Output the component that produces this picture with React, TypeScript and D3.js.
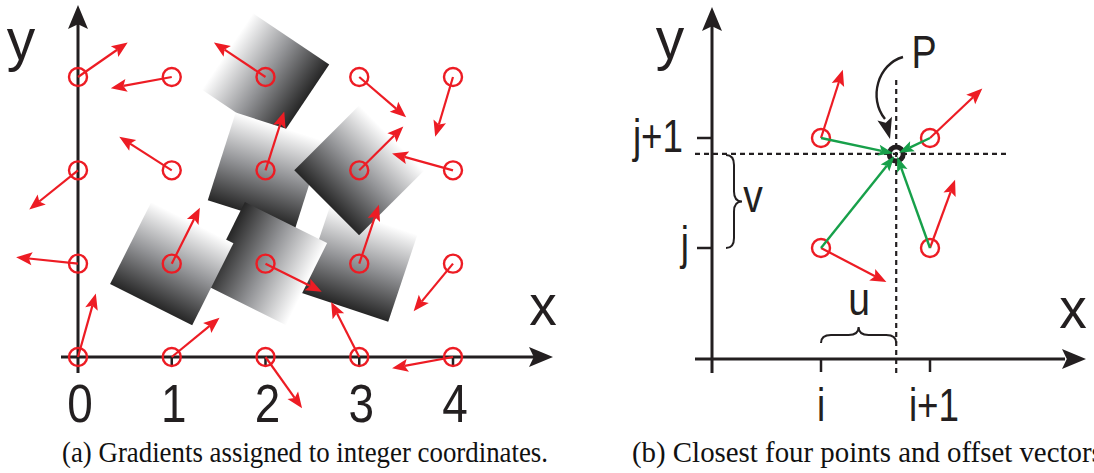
import React from "react";
import * as d3 from "d3";

const W = 1094;
const H = 473;

// panel (a): lattice and the gradient vector at each integer point [i, j, gx, gy]
const latticeX = [0, 1, 2, 3, 4];
const latticeY = [0, 1, 2, 3];
const gradients: [number, number, number, number][] = [
  [0, 0, 0.19, 0.68], [1, 0, 0.51, 0.42], [2, 0, 0.39, -0.55], [3, 0, -0.3, 0.59], [4, 0, -0.65, -0.12],
  [0, 1, -0.66, 0.07], [1, 1, 0.3, 0.6], [2, 1, 0.6, -0.3], [3, 1, 0.21, 0.63], [4, 1, -0.42, -0.51],
  [0, 2, -0.52, -0.42], [1, 2, -0.56, 0.36], [2, 2, 0.2, 0.63], [3, 2, 0.47, 0.47], [4, 2, -0.65, 0.18],
  [0, 3, 0.53, 0.37], [1, 3, -0.65, -0.12], [2, 3, -0.55, 0.37], [3, 3, 0.5, -0.43], [4, 3, -0.19, -0.64],
];
// points that get a shaded square, in drawing order
const shaded: [number, number][] = [[2, 3], [2, 2], [3, 1], [3, 2], [2, 1], [1, 1]];
const tickLabelsA = ["0", "1", "2", "3", "4"];

// panel (b): the four cell corners, their gradients and the point P
const corners: [number, number][] = [[0, 1], [1, 1], [0, 0], [1, 0]];
const cornerGrads: [number, number][] = [[0.2, 0.62], [0.48, 0.45], [0.6, -0.31], [0.23, 0.62]];
const pointP: [number, number] = [0.69, 0.855];
const xLabelsB = ["i", "i+1"];
const yLabelsB = ["j", "j+1"];

const RED = "#ed1c24";
const GREEN = "#17a04a";
const INK = "#231f20";
const SANS = "'Liberation Sans', Arial, sans-serif";

function arrow(x1: number, y1: number, x2: number, y2: number, len: number, wid: number, notch = 0.8) {
  const dx = x2 - x1, dy = y2 - y1;
  const d = Math.hypot(dx, dy);
  const ux = dx / d, uy = dy / d;
  const bx = x2 - ux * len, by = y2 - uy * len;
  const nx = -uy, ny = ux;
  const kx = x2 - ux * len * notch, ky = y2 - uy * len * notch;
  return {
    line: `M${x1},${y1}L${kx},${ky}`,
    head: `M${x2},${y2}L${bx + (nx * wid) / 2},${by + (ny * wid) / 2}L${kx},${ky}L${bx - (nx * wid) / 2},${by - (ny * wid) / 2}Z`,
  };
}

function Arrow({ x1, y1, x2, y2, color, len, wid, sw }: any) {
  const a = arrow(x1, y1, x2, y2, len, wid);
  return (
    <g>
      <path d={a.line} stroke={color} strokeWidth={sw} fill="none" />
      <path d={a.head} fill={color} />
    </g>
  );
}

// narrow sans label
function Label({ x, y, size, anchor = "middle", sx = 0.82, children }: any) {
  return (
    <text transform={`translate(${x},${y}) scale(${sx},1)`} fontFamily={SANS} fontSize={size} textAnchor={anchor} fill={INK}>
      {children}
    </text>
  );
}

// curly braces
function braceV(x0: number, y0: number, y1: number, h: number) {
  const ym = (y0 + y1) / 2, c = 10;
  return `M${x0},${y0}Q${x0 + h},${y0} ${x0 + h},${y0 + c}L${x0 + h},${ym - c}Q${x0 + h},${ym} ${x0 + 2 * h},${ym}Q${x0 + h},${ym} ${x0 + h},${ym + c}L${x0 + h},${y1 - c}Q${x0 + h},${y1} ${x0},${y1}`;
}
function braceH(y0: number, x0: number, x1: number, h: number) {
  const xm = (x0 + x1) / 2, c = 10;
  return `M${x0},${y0}Q${x0},${y0 - h} ${x0 + c},${y0 - h}L${xm - c},${y0 - h}Q${xm},${y0 - h} ${xm},${y0 - 2 * h}Q${xm},${y0 - h} ${xm + c},${y0 - h}L${x1 - c},${y0 - h}Q${x1},${y0 - h} ${x1},${y0}`;
}

export default function App() {
  // panel (a) scales
  const xA = d3.scaleLinear().domain([0, 4]).range([78, 453]);
  const yA = d3.scaleLinear().domain([0, 3]).range([357, 77]);
  const side = xA(0.98) - xA(0);

  // panel (b) scales
  const xB = d3.scaleLinear().domain([0, 1]).range([821, 930]);
  const yB = d3.scaleLinear().domain([0, 1]).range([248, 138]);
  const px = xB(pointP[0]), py = yB(pointP[1]);

  const gradAt = (i: number, j: number) => gradients.find((g) => g[0] === i && g[1] === j)!;

  return (
    <svg width={W} height={H} style={{ position: "absolute", left: 0, top: 0, background: "#fff" }}>
      <defs>
        <linearGradient id="shade" x1="0" y1="0" x2="1" y2="0">
          <stop offset="0" stopColor="#262626" />
          <stop offset="0.5" stopColor="#939497" />
          <stop offset="1" stopColor="#ffffff" />
        </linearGradient>
      </defs>

      {/* ---------- panel (a) ---------- */}
      {shaded.map(([i, j]) => {
        const g = gradAt(i, j);
        const cx = xA(i), cy = yA(j);
        const ang = (Math.atan2(yA(j + g[3]) - cy, xA(i + g[2]) - cx) * 180) / Math.PI;
        return (
          <g key={`sq${i}${j}`} transform={`translate(${cx},${cy}) rotate(${ang})`}>
            <rect x={-side / 2} y={-side / 2} width={side} height={side} fill="url(#shade)" />
          </g>
        );
      })}

      {/* axes */}
      <line x1={xA(0)} x2={xA(0)} y1={373} y2={20} stroke={INK} strokeWidth={3} />
      <path d={arrow(xA(0), 40, xA(0), 5, 24, 20).head} fill={INK} />
      <line x1={61} x2={535} y1={yA(0)} y2={yA(0)} stroke={INK} strokeWidth={3} />
      <path d={arrow(520, yA(0), 553, yA(0), 24, 20).head} fill={INK} />
      {latticeX.slice(1).map((i) => (
        <line key={`ta${i}`} x1={xA(i)} x2={xA(i)} y1={yA(0)} y2={yA(0) + 9} stroke={INK} strokeWidth={2.5} />
      ))}

      {gradients.map(([i, j, gx, gy]) => (
        <Arrow key={`ga${i}${j}`} x1={xA(i)} y1={yA(j)} x2={xA(i + gx)} y2={yA(j + gy)} color={RED} len={16} wid={13} sw={2.2} />
      ))}
      {latticeX.map((i) =>
        latticeY.map((j) => (
          <circle key={`c${i}${j}`} cx={xA(i)} cy={yA(j)} r={9} fill="none" stroke={RED} strokeWidth={2.4} />
        ))
      )}

      <Label x={21} y={60} size={60} sx={0.95}>y</Label>
      <Label x={543} y={325} size={58} sx={0.95}>x</Label>
      {tickLabelsA.map((t, k) => (
        <Label key={`la${k}`} x={xA(latticeX[k]) + 2} y={422} size={54} sx={0.85}>
          {t}
        </Label>
      ))}

      {/* ---------- panel (b) ---------- */}
      <line x1={712} x2={712} y1={373} y2={25} stroke={INK} strokeWidth={3} />
      <path d={arrow(712, 40, 712, 7, 24, 20).head} fill={INK} />
      <line x1={695} x2={1065} y1={359} y2={359} stroke={INK} strokeWidth={3} />
      <path d={arrow(1050, 359, 1086, 359, 24, 20).head} fill={INK} />
      {[0, 1].map((k) => (
        <g key={`tb${k}`}>
          <line x1={xB(k)} x2={xB(k)} y1={359} y2={372} stroke={INK} strokeWidth={2.5} />
          <line x1={697} x2={712} y1={yB(k)} y2={yB(k)} stroke={INK} strokeWidth={2.5} />
          <Label x={k === 0 ? xB(0) : xB(1) + 4} y={421} size={46} sx={0.8}>
            {xLabelsB[k]}
          </Label>
          <Label x={k === 0 ? 689 : 683} y={k === 0 ? 259 : 152} size={46} sx={0.8} anchor="end">
            {yLabelsB[k]}
          </Label>
        </g>
      ))}

      {/* dashed guides through P */}
      <line x1={695} x2={1010} y1={py} y2={py} stroke={INK} strokeWidth={2.2} strokeDasharray="5 4" />
      <line x1={px} x2={px} y1={80} y2={375} stroke={INK} strokeWidth={2.2} strokeDasharray="5 4" />

      {/* braces */}
      <path d={braceV(726, py + 1, yB(0), 8)} fill="none" stroke={INK} strokeWidth={2} />
      <path d={braceH(343, xB(0), px, 8)} fill="none" stroke={INK} strokeWidth={2} />
      <Label x={753} y={212} size={46} sx={0.85}>v</Label>
      <Label x={859} y={315} size={46} sx={0.85}>u</Label>

      {/* red gradients and green offset vectors */}
      {corners.map(([ci, cj], k) => {
        const cx = xB(ci), cy = yB(cj);
        const d = Math.hypot(px - cx, py - cy);
        const ex = px - ((px - cx) / d) * 4, ey = py - ((py - cy) / d) * 4;
        return (
          <g key={`cb${k}`}>
            <Arrow x1={cx} y1={cy} x2={xB(ci + cornerGrads[k][0])} y2={yB(cj + cornerGrads[k][1])} color={RED} len={16} wid={13} sw={2.2} />
            <circle cx={cx} cy={cy} r={9} fill="none" stroke={RED} strokeWidth={2.4} />
          </g>
        );
      })}
      <circle cx={px} cy={py} r={7} fill="none" stroke={INK} strokeWidth={5} />
      {corners.map(([ci, cj], k) => {
        const cx = xB(ci), cy = yB(cj);
        const d = Math.hypot(px - cx, py - cy);
        const ex = px - ((px - cx) / d) * 3, ey = py - ((py - cy) / d) * 3;
        return <Arrow key={`gr${k}`} x1={cx} y1={cy} x2={ex} y2={ey} color={GREEN} len={15} wid={11} sw={2.4} />;
      })}

      {/* pointer to P */}
      <path d="M903,57C878,64 868,98 885,119" fill="none" stroke={INK} strokeWidth={2.4} />
      <path d={arrow(884, 116, 890, 139, 21, 15).head} fill={INK} />
      <Label x={924} y={68} size={46} sx={0.82}>P</Label>
      <Label x={670} y={59} size={60} sx={0.95}>y</Label>
      <Label x={1073} y={328} size={58} sx={0.95}>x</Label>

      {/* captions */}
      <text x={62} y={462} fontFamily="'Liberation Serif', serif" fontSize={30} textLength={486} lengthAdjust="spacingAndGlyphs" fill="#111">
        (a) Gradients assigned to integer coordinates.
      </text>
      <text x={632} y={462} fontFamily="'Liberation Serif', serif" fontSize={30} textLength={478} lengthAdjust="spacingAndGlyphs" fill="#111">
        (b) Closest four points and offset vectors.
      </text>
    </svg>
  );
}
